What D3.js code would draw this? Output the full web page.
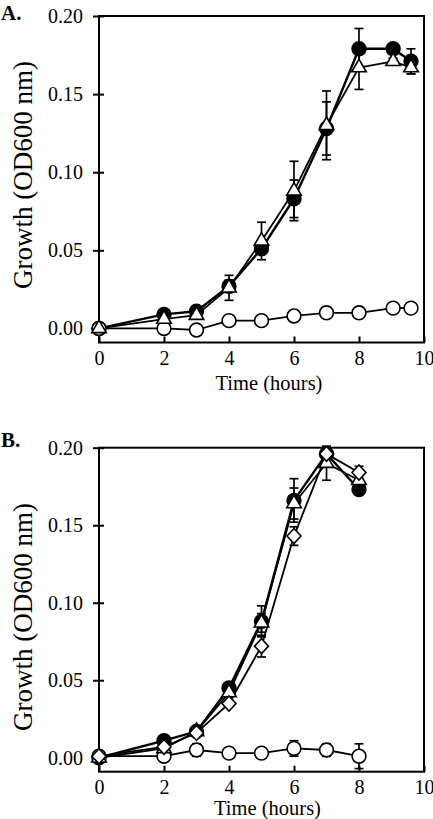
<!DOCTYPE html>
<html>
<head>
<meta charset="utf-8">
<script src="https://cdn.jsdelivr.net/npm/d3@7"></script>
<style>
  html, body { margin: 0; padding: 0; background: #fff; }
  svg { display: block; }
  text { font-family: "Liberation Serif", "Times New Roman", serif; fill: #000; }
</style>
</head>
<body>
<svg id="chart" width="433" height="819"></svg>
<script>
// ---------- data ----------
const xTicks = [0, 2, 4, 6, 8, 10];
const yTicks = [0, 0.05, 0.10, 0.15, 0.20];
const xLabel = "Time (hours)";
const yLabel = "Growth (OD600 nm)";

// Panel A
const timesA = [0, 2, 3, 4, 5, 6, 7, 8, 9.05, 9.6];
const aFilledCircle    = [0.000, 0.009, 0.011, 0.027, 0.051, 0.083, 0.128, 0.179, 0.179, 0.171];
const aFilledCircleErr = [0, 0.001, 0.001, 0.004, 0.003, 0.012, 0.017, 0.013, 0.002, 0.008];
const aTriangle        = [0.000, 0.006, 0.0085, 0.026, 0.056, 0.088, 0.130, 0.167, 0.171, 0.167];
const aTriangleErr     = [0, 0.001, 0.001, 0.008, 0.012, 0.019, 0.022, 0.014, 0.002, 0.004];
const aOpenCircle      = [0.000, 0.000, -0.001, 0.005, 0.005, 0.008, 0.010, 0.010, 0.013, 0.013];
const aOpenCircleErr   = [0, 0.001, 0.001, 0.001, 0.001, 0.001, 0.001, 0.001, 0.001, 0.001];

// Panel B
const timesB = [0, 2, 3, 4, 5, 6, 7, 8];
const bFilledCircle    = [0.000, 0.011, 0.017, 0.045, 0.088, 0.166, 0.196, 0.173];
const bFilledCircleErr = [0, 0.001, 0.001, 0.002, 0.010, 0.014, 0.003, 0.002];
const bTriangle        = [0.000, 0.006, 0.017, 0.042, 0.087, 0.164, 0.190, 0.179];
const bTriangleErr     = [0, 0.001, 0.001, 0.002, 0.006, 0.010, 0.011, 0.003];
const bDiamond         = [0.001, 0.007, 0.016, 0.035, 0.072, 0.143, 0.196, 0.184];
const bDiamondErr      = [0, 0.001, 0.001, 0.002, 0.007, 0.006, 0.002, 0.004];
const bOpenCircle      = [0.001, 0.001, 0.005, 0.003, 0.003, 0.006, 0.005, 0.001];
const bOpenCircleErr   = [0, 0.001, 0.004, 0.001, 0.001, 0.005, 0.004, 0.008];

// ---------- drawing ----------
const svg = d3.select("#chart");

function symbolPath(kind) {
  if (kind === "circle") return d3.symbol().type(d3.symbolCircle).size(Math.PI * 6.9 * 6.9)();
  if (kind === "triangle") {
    const s = 14.5, h = s * Math.sqrt(3) / 2;
    return `M0,${-2*h/3}L${s/2},${h/3}L${-s/2},${h/3}Z`;
  }
  if (kind === "diamond") return "M0,-7.5L7,0L0,7.5L-7,0Z";
}

function panel(cfg) {
  const x = d3.scaleLinear().domain([0, 10]).range([cfg.left, cfg.right]);
  const y = d3.scaleLinear().domain([-0.009, 0.2]).range([cfg.bottom, cfg.top]);
  const g = svg.append("g");

  // frame
  g.append("rect")
    .attr("x", cfg.left).attr("y", cfg.top)
    .attr("width", cfg.right - cfg.left).attr("height", cfg.bottom - cfg.top)
    .attr("fill", "none").attr("stroke", "#000").attr("stroke-width", 2);

  // y axis ticks (crossing)
  const yAxis = d3.axisLeft(y).tickValues(yTicks).tickFormat(d3.format(".2f"))
    .tickSizeInner(6).tickSizeOuter(0).tickPadding(10);
  const ya = g.append("g").attr("transform", `translate(${cfg.left},0)`).call(yAxis);
  ya.select(".domain").remove();
  ya.selectAll(".tick line").attr("x2", -6).attr("x1", 5).attr("stroke", "#000").attr("stroke-width", 2);
  ya.selectAll(".tick text").style("font-size", "20px").style("font-family", "Liberation Serif").attr("fill", "#000");

  // x axis ticks (inward)
  const xAxis = d3.axisBottom(x).tickValues(xTicks).tickFormat(d3.format("d"))
    .tickSizeInner(-6).tickSizeOuter(0).tickPadding(10);
  const xa = g.append("g").attr("transform", `translate(0,${cfg.bottom})`).call(xAxis);
  xa.select(".domain").remove();
  xa.selectAll(".tick line").attr("stroke", "#000").attr("stroke-width", 2);
  xa.selectAll(".tick text").style("font-size", "20px").style("font-family", "Liberation Serif")
    .attr("fill", "#000").attr("y", 0).attr("dy", null).attr("dominant-baseline", null)
    .attr("transform", `translate(0,${cfg.xLabelBase})`);

  // titles
  g.append("text").attr("x", cfg.xTitleX).attr("y", cfg.bottom + cfg.xTitleBase)
    .attr("text-anchor", "middle").style("font-size", "20.5px").text(xLabel);
  g.append("text").attr("transform", `translate(${cfg.yTitleX},${cfg.yTitleY}) rotate(-90)`)
    .attr("text-anchor", "middle").style("font-size", "27px").text(yLabel);
  g.append("text").attr("x", 1).attr("y", cfg.tagBase)
    .style("font-size", "21px").style("font-weight", "bold").text(cfg.tag);

  const line = d3.line().x(d => x(d.t)).y(d => y(d.v));

  cfg.series.forEach(s => {
    const pts = cfg.times.map((t, i) => ({ t, v: s.values[i], e: s.errs[i] }));
    s.pts = pts;
    g.append("path").attr("d", line(pts)).attr("fill", "none")
      .attr("stroke", "#000").attr("stroke-width", s.lw || 2).attr("stroke-linejoin", "round");
  });
  // error bars
  cfg.series.forEach(s => {
    const eb = g.append("g").attr("stroke", "#000").attr("stroke-width", 1.7);
    s.pts.filter(d => d.e > 0.0015).forEach(d => {
      const cx = x(d.t), y1 = y(d.v + d.e), y2 = y(d.v - d.e);
      eb.append("line").attr("x1", cx).attr("x2", cx).attr("y1", y1).attr("y2", y2);
      eb.append("line").attr("x1", cx - 4.5).attr("x2", cx + 4.5).attr("y1", y1).attr("y2", y1);
      eb.append("line").attr("x1", cx - 4.5).attr("x2", cx + 4.5).attr("y1", y2).attr("y2", y2);
    });
  });
  // markers
  cfg.series.forEach(s => {
    g.append("g").selectAll("path").data(s.pts).join("path")
      .attr("transform", d => `translate(${x(d.t)},${y(d.v)})`)
      .attr("d", symbolPath(s.shape))
      .attr("fill", s.filled ? "#000" : "#fff")
      .attr("stroke", "#000").attr("stroke-width", 1.6);
  });
}

panel({
  tag: "A.", tagBase: 20,
  left: 99, right: 424, top: 16, bottom: 342.5,
  xLabelBase: 22.5, xTitleBase: 47, xTitleX: 269, yTitleX: 32, yTitleY: 175,
  times: timesA,
  series: [
    { values: aFilledCircle, errs: aFilledCircleErr, shape: "circle", filled: true, lw: 2.4 },
    { values: aOpenCircle, errs: aOpenCircleErr, shape: "circle", filled: false, lw: 1.8 },
    { values: aTriangle, errs: aTriangleErr, shape: "triangle", filled: false, lw: 1.8 }
  ]
});

panel({
  tag: "B.", tagBase: 447,
  left: 99, right: 424, top: 447.7, bottom: 771.7,
  xLabelBase: 22, xTitleBase: 43.5, xTitleX: 267.5, yTitleX: 32, yTitleY: 617,
  times: timesB,
  series: [
    { values: bFilledCircle, errs: bFilledCircleErr, shape: "circle", filled: true, lw: 2.4 },
    { values: bOpenCircle, errs: bOpenCircleErr, shape: "circle", filled: false, lw: 1.8 },
    { values: bTriangle, errs: bTriangleErr, shape: "triangle", filled: false, lw: 1.8 },
    { values: bDiamond, errs: bDiamondErr, shape: "diamond", filled: false, lw: 1.8 }
  ]
});
</script>
</body>
</html>
